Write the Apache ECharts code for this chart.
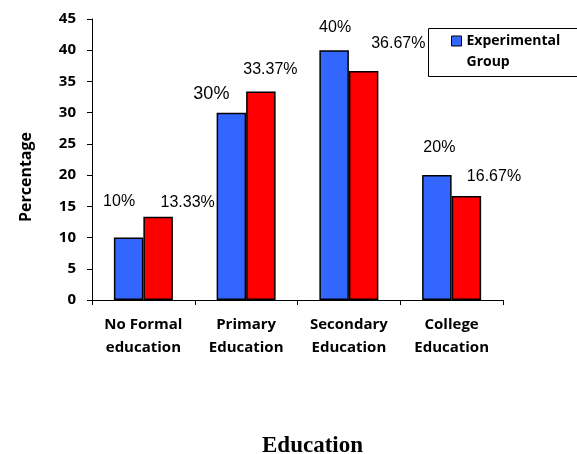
<!DOCTYPE html>
<html>
<head>
<meta charset="utf-8">
<script src="https://cdn.jsdelivr.net/npm/echarts@6/dist/echarts.min.js"></script>
<style>html,body{margin:0;padding:0;background:#fff;}#c{width:577px;height:454px;}</style>
</head>
<body>
<div id="c"></div>
<script>
var categories = ['No Formal\neducation', 'Primary\nEducation', 'Secondary\nEducation', 'College\nEducation'];
var experimental = [10, 30, 40, 20];
var control = [13.33, 33.37, 36.67, 16.67];
var experimentalLabels = ['10%', '30%', '40%', '20%'];
var controlLabels = ['13.33%', '33.37%', '36.67%', '16.67%'];
var yTicks = [0, 5, 10, 15, 20, 25, 30, 35, 40, 45];

// label placement (offsets from the bar top), kept apart from the data
var expOffsets = [[-9.5, -27.5], [-20, -10], [1, -14.5], [2.5, -20]];
var ctlOffsets = [[29.5, -6.5], [9.5, -14.5], [34.7, -19.5], [27.6, -11]];
var expFontSizes = [16, 18, 16, 16];

function items(values, labels, offsets, sizes) {
  return values.map(function (v, i) {
    return {
      value: v,
      label: {
        show: true, position: 'top', distance: 0,
        formatter: labels[i], offset: offsets[i],
        fontSize: sizes ? sizes[i] : 16,
        fontFamily: 'Liberation Sans', color: '#000'
      }
    };
  });
}

var chart = echarts.init(document.getElementById('c'), null, {renderer: 'canvas'});
chart.setOption({
  animation: false,
  backgroundColor: '#fff',
  grid: {left: 92, right: 74, top: 19, bottom: 154, containLabel: false, outerBoundsMode: 'none'},
  legend: {
    data: ['Experimental Group'],
    left: 451, top: 31, padding: 0,
    itemWidth: 10, itemHeight: 10,
    icon: 'rect',
    itemStyle: {borderColor: '#000', borderWidth: 1},
    formatter: function () { return '{t|Experimental}\n{g|Group}'; },
    textStyle: {
      fontFamily: 'Open Sans', fontWeight: 'bold', fontSize: 14, color: '#000',
      rich: {
        t: {fontFamily: 'Open Sans', fontWeight: 'bold', fontSize: 14, color: '#000', lineHeight: 43, height: 21, verticalAlign: 'bottom'},
        g: {fontFamily: 'Open Sans', fontWeight: 'bold', fontSize: 14, color: '#000', lineHeight: 21, height: 21}
      }
    }
  },
  graphic: [{
    type: 'rect', left: 426, top: 26, silent: true,
    shape: {width: 150, height: 48},
    style: {fill: 'none', stroke: '#000', lineWidth: 1}
  }],
  xAxis: {
    type: 'category', data: categories,
    name: 'Education', nameLocation: 'middle', nameGap: 135,
    nameTextStyle: {fontFamily: 'Liberation Serif', fontWeight: 'bold', fontSize: 23, color: '#000', padding: [0, 0, 0, 30]},
    axisLine: {lineStyle: {color: '#000', width: 1}},
    axisTick: {show: true, length: 5, interval: 0, lineStyle: {color: '#000'}},
    axisLabel: {interval: 0, margin: 13, fontFamily: 'Open Sans', fontWeight: 'bold', fontSize: 15, lineHeight: 23, color: '#000'}
  },
  yAxis: {
    type: 'value', min: 0, max: 45, interval: 5,
    name: 'Percentage', nameLocation: 'middle', nameGap: 58, nameRotate: 90,
    nameTextStyle: {fontFamily: 'Open Sans', fontWeight: 'bold', fontSize: 16, color: '#000', padding: [0, 35, 0, 0]},
    axisLine: {show: true, lineStyle: {color: '#000', width: 1}},
    axisTick: {show: true, length: 5, lineStyle: {color: '#000'}},
    splitLine: {show: false},
    axisLabel: {margin: 16, fontFamily: 'Open Sans', fontWeight: 'bold', fontSize: 15, color: '#000',
      formatter: function (v) { return yTicks.indexOf(v) >= 0 ? String(v) : ''; }}
  },
  series: [{
    name: 'Experimental Group', type: 'bar', barWidth: 29.5, barGap: '0%',
    itemStyle: {color: '#3366FF', borderColor: '#000', borderWidth: 1.5},
    data: items(experimental, experimentalLabels, expOffsets, expFontSizes)
  }, {
    name: 'Control Group', type: 'bar', barWidth: 29.5, barGap: '0%',
    itemStyle: {color: '#FF0000', borderColor: '#000', borderWidth: 1.5},
    data: items(control, controlLabels, ctlOffsets)
  }]
});
</script>
</body>
</html>
